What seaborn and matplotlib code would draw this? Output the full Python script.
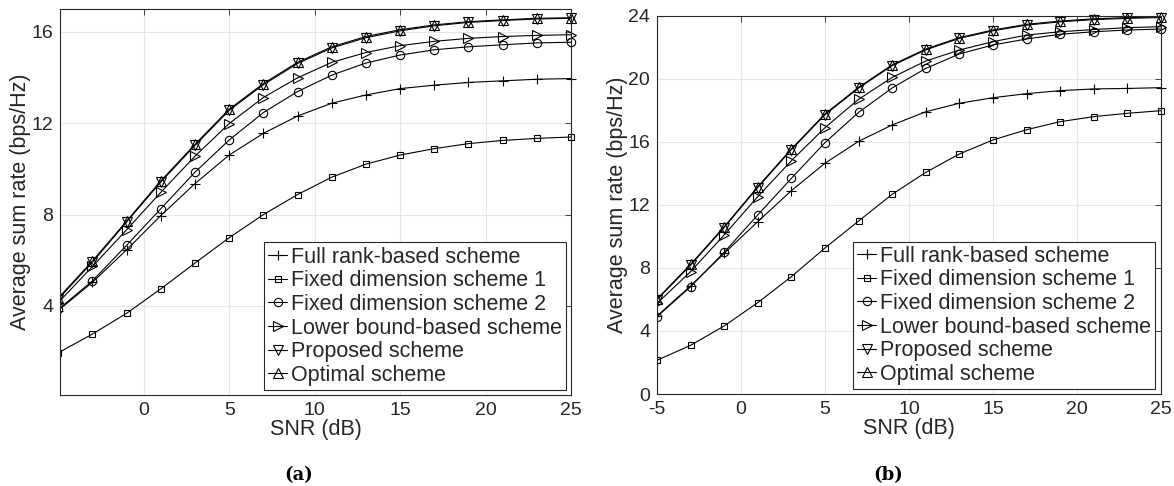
import numpy as np
import pandas as pd
import matplotlib
matplotlib.use("Agg")
import matplotlib.pyplot as plt
from matplotlib.transforms import Bbox, TransformedBbox
import seaborn as sns

# SNR grid (dB)
snr = [-5, -3, -1, 1, 3, 5, 7, 9, 11, 13, 15, 17, 19, 21, 23, 25]

schemes = ["Full rank-based scheme", "Fixed dimension scheme 1",
           "Fixed dimension scheme 2", "Lower bound-based scheme",
           "Proposed scheme", "Optimal scheme"]
markers = ["+", "s", "o", ">", "v", "^"]
msizes = [7, 4.5, 6, 6.5, 6.5, 6.5]

# (a)
full_a = [3.80, 5.04, 6.46, 7.96, 9.36, 10.61, 11.56, 12.32, 12.88, 13.24, 13.52, 13.67, 13.79, 13.86, 13.93, 13.96]
fix1_a = [1.95, 2.77, 3.68, 4.75, 5.88, 6.99, 8.00, 8.88, 9.64, 10.21, 10.61, 10.89, 11.11, 11.25, 11.34, 11.40]
fix2_a = [3.85, 5.10, 6.66, 8.26, 9.86, 11.27, 12.47, 13.39, 14.11, 14.64, 14.99, 15.22, 15.35, 15.44, 15.52, 15.55]
lower_a = [4.15, 5.73, 7.34, 8.98, 10.56, 11.99, 13.13, 13.99, 14.67, 15.10, 15.40, 15.59, 15.72, 15.80, 15.85, 15.88]
prop_a = [4.30, 5.92, 7.68, 9.43, 11.03, 12.57, 13.69, 14.62, 15.30, 15.75, 16.05, 16.27, 16.42, 16.50, 16.57, 16.60]
opt_a = [4.35, 5.97, 7.72, 9.48, 11.08, 12.62, 13.74, 14.67, 15.35, 15.80, 16.10, 16.31, 16.45, 16.53, 16.60, 16.62]

# (b)
full_b = [4.95, 6.86, 8.93, 10.94, 12.91, 14.65, 16.04, 17.08, 17.92, 18.46, 18.81, 19.07, 19.26, 19.37, 19.40, 19.45]
fix1_b = [2.14, 3.09, 4.32, 5.80, 7.45, 9.27, 10.98, 12.68, 14.07, 15.24, 16.13, 16.78, 17.29, 17.61, 17.82, 17.99]
fix2_b = [4.91, 6.81, 9.00, 11.37, 13.69, 15.96, 17.88, 19.43, 20.67, 21.59, 22.16, 22.54, 22.84, 23.00, 23.11, 23.17]
lower_b = [5.75, 7.77, 10.10, 12.53, 14.81, 16.91, 18.71, 20.10, 21.14, 21.84, 22.37, 22.79, 23.00, 23.14, 23.26, 23.32]
prop_b = [5.98, 8.18, 10.57, 13.11, 15.51, 17.73, 19.42, 20.85, 21.85, 22.58, 23.06, 23.42, 23.63, 23.77, 23.85, 23.90]
opt_b = [6.03, 8.23, 10.62, 13.16, 15.56, 17.78, 19.47, 20.90, 21.90, 22.63, 23.11, 23.47, 23.68, 23.82, 23.90, 23.95]

sns.set_theme(style="whitegrid")
plt.rcParams["font.family"] = ["Liberation Sans", "DejaVu Sans"]
plt.rcParams.update({
    "axes.unicode_minus": False,
    "axes.edgecolor": "#262626",
    "axes.linewidth": 0.8,
    "grid.color": "#e6e6e6",
    "grid.linewidth": 0.8,
    "xtick.color": "#262626",
    "ytick.color": "#262626",
    "text.color": "#262626",
    "axes.labelcolor": "#262626",
})

fig = plt.figure(figsize=(11.74, 4.86), dpi=100)
ax1 = fig.add_axes([0.0511, 0.1872, 0.4353, 0.794])
ax2 = fig.add_axes([0.5596, 0.1893, 0.4293, 0.7778])

panels = [
    (ax1, [full_a, fix1_a, fix2_a, lower_a, prop_a, opt_a], (-4.9, 25), (0.1, 17),
     range(0, 26, 5), [4, 8, 12, 16], (0.99, 0.013), "(a)", 299),
    (ax2, [full_b, fix1_b, fix2_b, lower_b, prop_b, opt_b], (-5, 25), (0, 24),
     range(-5, 26, 5), [0, 4, 8, 12, 16, 20, 24], (0.988, 0.013), "(b)", 888),
]

for ax, series, xl, yl, xt, yt, anchor, tag, tagx in panels:
    for name, vals, m, ms in zip(schemes, series, markers, msizes):
        sns.lineplot(x=snr, y=vals, ax=ax, color="black", linewidth=0.8,
                     marker=m, markersize=ms, markerfacecolor="none",
                     markeredgecolor="black", markeredgewidth=0.8,
                     label=name, legend=False)
    ax.set_xlim(*xl)
    ax.set_ylim(*yl)
    ax.set_xticks(list(xt))
    ax.set_yticks(yt)
    # let markers spill over right/top edges, clip only at the left edge
    clip = TransformedBbox(Bbox([[0, -0.2], [1.2, 1.2]]), ax.transAxes)
    for ln in ax.get_lines():
        ln.set_clip_box(clip)
    ax.tick_params(direction="in", length=4, width=0.6, top=True, right=True,
                   labelsize=14, pad=5)
    ax.grid(True)
    for s in ax.spines.values():
        s.set_color("#262626")
        s.set_linewidth(0.8)
    ax.set_xlabel("SNR (dB)", fontsize=15.5, labelpad=0)
    ax.set_ylabel("Average sum rate (bps/Hz)", fontsize=15.5, labelpad=0)
    leg = ax.legend(loc="lower right", bbox_to_anchor=anchor, fontsize=15.5,
                    handlelength=0.9, handletextpad=0.15, borderpad=0.2,
                    labelspacing=0.12, borderaxespad=0, fancybox=False,
                    framealpha=1, edgecolor="#262626")
    leg.get_frame().set_linewidth(0.8)
    fig.text(tagx / 1174, 1 - 475 / 486, tag, ha="center", va="center",
             fontsize=13, fontweight="bold", family="DejaVu Serif", color="black")

fig.savefig("out.png", dpi=100)
